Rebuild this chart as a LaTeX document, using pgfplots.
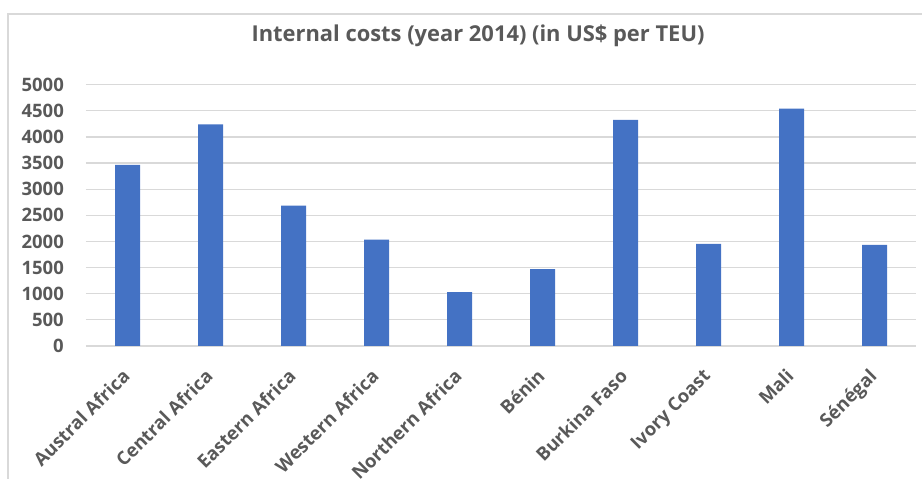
\documentclass[border=0pt]{standalone}
\usepackage{pgfplots}
\pgfplotsset{compat=1.18}
\usepackage{fontspec}
\setmainfont{Open Sans}
\definecolor{barblue}{HTML}{4472C4}
\definecolor{txtgrey}{HTML}{595959}
\definecolor{gridgrey}{HTML}{D9D9D9}
\begin{document}
\begin{tikzpicture}[x=1pt,y=1pt]
\path[use as bounding box] (0,0) rectangle (922,479);
\draw[gridgrey, line width=1.2pt] (8,0) -- (8,465) -- (922,465);
\node[anchor=base, text=txtgrey, font=\fontsize{21.9}{26}\selectfont\bfseries] at (478,437) {Internal costs (year 2014) (in US\$ per TEU)};
\begin{axis}[
  at={(86pt,133pt)}, anchor=south west,
  scale only axis, width=830pt, height=261.3pt,
  xmin=-0.5, xmax=9.5, ymin=0, ymax=5000,
  axis line style={draw=none},
  ymajorgrids, grid style={gridgrey, line width=1.2pt},
  ytick={0,500,...,5000},
  xtick={0,...,9},
  xticklabels={Austral Africa, Central Africa, Eastern Africa, Western Africa, Northern Africa, Bénin, Burkina Faso, Ivory Coast, Mali, Sénégal},
  major tick length=0pt,
  /pgf/number format/assume math mode=true,
  /pgf/number format/1000 sep={},
  ticklabel style={text=txtgrey, font=\fontsize{18.5}{20}\selectfont\bfseries},
  yticklabel style={anchor=east, inner sep=0pt, xshift=-22pt},
  xticklabel style={rotate=45, anchor=north east, inner sep=0pt, xshift=-19.8pt, yshift=-10.5pt},
  clip=false,
]
\addplot[ybar, bar width=25pt, fill=barblue, draw=none] coordinates {
  (0,3465) (1,4242) (2,2685) (3,2035) (4,1033) (5,1473) (6,4325) (7,1952) (8,4541) (9,1933)
};
\end{axis}
\end{tikzpicture}
\end{document}
